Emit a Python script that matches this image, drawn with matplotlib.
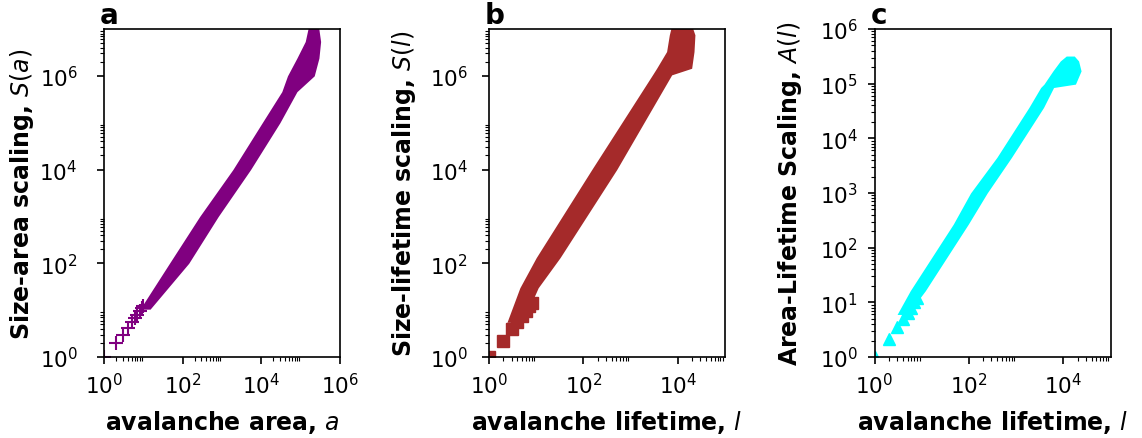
import numpy as np
import matplotlib.pyplot as plt
from matplotlib.ticker import FixedLocator, NullFormatter

# panel a: size vs area
a_pts = [1, 2, 3, 4, 5, 6, 7, 8, 9, 10]
S_a_pts = [1, 2, 3, 4.2, 5.5, 6.8, 8, 9.5, 11, 12.5]
S_a_band = [10.5, 100, 1e3, 1e4, 1e5, 4.6e5, 1e6, 2.4e6, 5.4e6, 1.2e7]
a_left = [8.2, 46, 270, 1880, 1.05e4, 3.3e4, 4.6e4, 8.0e4, 1.3e5, 1.6e5]
a_right = [14.8, 142, 800, 5300, 2.95e4, 8.0e4, 2.2e5, 2.9e5, 3.2e5, 2.8e5]

# panel b: size vs lifetime
l_b_pts = [1, 2, 3, 4, 5, 6, 7, 8]
S_l_pts = [1, 2.2, 3.9, 5.6, 7.5, 9.5, 12, 14]
S_l_band = [5.5, 30, 132, 1e4, 1.05e6, 1.45e6, 3.3e6, 7.5e6, 1.2e7]
lb_left = [2.4, 4.5, 10, 150, 2900, 3550, 5780, 6600, 7400]
lb_right = [5.2, 11, 32, 507, 7400, 1.96e4, 2.2e4, 2.3e4, 1.96e4]

# panel c: area vs lifetime
l_c_pts = [1, 2, 3, 4, 5, 6, 7, 8]
A_l_pts = [1, 2.1, 3.5, 5, 6.5, 8, 10, 12]
A_l_band = [6.0, 16.3, 270, 1e3, 4480, 3.67e4, 8.5e4, 9.8e4, 1.71e5, 2.6e5, 3.2e5]
lc_left = [3.0, 5.7, 46.6, 108, 390, 1860, 3300, 3880, 6000, 8600, 1.15e4]
lc_right = [5.0, 11.9, 97, 243, 795, 3800, 6200, 1.8e4, 2.37e4, 2.1e4, 1.7e4]

fig = plt.figure(figsize=(11.42, 4.39), dpi=100)
w, h = 0.2067, 0.7472
axa = fig.add_axes([0.0911, 0.1845, w, h])
axb = fig.add_axes([0.4282, 0.1845, w, h])
axc = fig.add_axes([0.7658, 0.1845, w, h])


def minor_ticks(majors):
    return [m * 10.0**k for k in majors for m in range(2, 10)]


def style(ax, xmax, ymax, xmajor, ymajor, yminor, ypad):
    ax.set_xscale('log')
    ax.set_yscale('log')
    ax.set_xlim(1, xmax)
    ax.set_ylim(1, ymax)
    ax.xaxis.set_major_locator(FixedLocator([10.0**k for k in xmajor]))
    ax.yaxis.set_major_locator(FixedLocator([10.0**k for k in ymajor]))
    ax.xaxis.set_minor_locator(FixedLocator(minor_ticks(xmajor)))
    ax.yaxis.set_minor_locator(FixedLocator(minor_ticks(yminor)))
    ax.xaxis.set_minor_formatter(NullFormatter())
    ax.yaxis.set_minor_formatter(NullFormatter())
    ax.tick_params(labelsize=15.5, width=1.2, length=5)
    ax.tick_params(which='minor', length=3, width=0.8)
    ax.tick_params(axis='x', pad=6)
    ax.tick_params(axis='y', pad=ypad)
    for s in ax.spines.values():
        s.set_linewidth(1.2)


def label(ax, letter, xl, yl, ylx):
    ax.set_xlabel(xl, fontsize=17, fontweight='bold')
    ax.set_ylabel(yl, fontsize=17, fontweight='bold')
    ax.xaxis.set_label_coords(0.5, -0.155)
    ax.yaxis.set_label_coords(ylx, 0.5)
    ax.text(-0.018, 1.0, letter, transform=ax.transAxes, fontsize=20,
            fontweight='bold', va='bottom')


# a
axa.fill_betweenx(S_a_band, a_left, a_right, color='purple', lw=0)
axa.plot(a_pts, S_a_pts, '+', color='purple', ms=10, mew=1.5)
style(axa, 1e6, 1e7, [0, 2, 4, 6], [0, 2, 4, 6], [0, 2, 4, 6], 14)
label(axa, 'a', 'avalanche area, $a$', 'Size-area scaling, $S(a)$', -0.29)

# b
axb.fill_betweenx(S_l_band, lb_left, lb_right, color='brown', lw=0)
axb.plot(l_b_pts, S_l_pts, 's', color='brown', ms=8)
style(axb, 1e5, 1e7, [0, 2, 4], [0, 2, 4, 6], [0, 2, 4, 6], 10)
label(axb, 'b', 'avalanche lifetime, $l$', 'Size-lifetime scaling, $S(l)$', -0.30)

# c
axc.fill_betweenx(A_l_band, lc_left, lc_right, color='cyan', lw=0)
axc.plot(l_c_pts, A_l_pts, '^', color='cyan', ms=9)
style(axc, 1e5, 1e6, [0, 2, 4], [0, 1, 2, 3, 4, 5, 6], [0, 1, 2, 3, 4, 5], 7)
label(axc, 'c', 'avalanche lifetime, $l$', 'Area-Lifetime Scaling, $A(l)$', -0.30)

fig.savefig('out.png', dpi=100)
